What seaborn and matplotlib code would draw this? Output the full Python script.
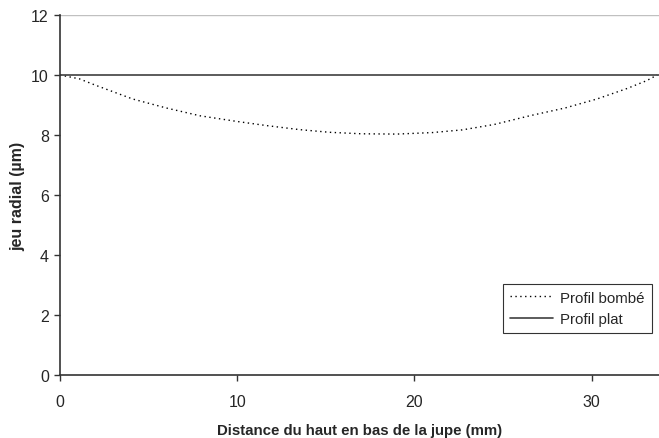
"""
Profil de jeu radial le long de la jupe : bombé vs plat
"""
import matplotlib
matplotlib.use("Agg")
import matplotlib.pyplot as plt
import seaborn as sns
import pandas as pd

sns.set_style("white")
plt.rcParams["font.family"] = ["Liberation Sans", "DejaVu Sans"]

# data
distance_mm = [0, 1.1, 2, 4.1, 6, 7.9, 10, 11.7, 13.5, 15.2, 17, 19, 21,
               22.7, 24.5, 26.5, 28.5, 30.3, 32, 33.1, 33.7]
jeu_bombe = [10.0, 9.87, 9.66, 9.2, 8.9, 8.64, 8.45, 8.31, 8.18, 8.09, 8.04,
             8.03, 8.08, 8.17, 8.35, 8.64, 8.9, 9.2, 9.55, 9.81, 10.0]
plat_x = [0, 33.8]
plat_y = [10, 10]

df_bombe = pd.DataFrame({"x": distance_mm, "y": jeu_bombe})
df_plat = pd.DataFrame({"x": plat_x, "y": plat_y})

fig = plt.figure(figsize=(6.59, 4.39), dpi=100)
ax = fig.add_axes([0.091, 0.1435, 0.909, 0.8201])

ax.axhline(12, color="#c0c0c0", lw=1, zorder=0)
sns.lineplot(data=df_bombe, x="x", y="y", ax=ax, color="black", lw=1,
             linestyle=(0, (1, 2.5)), label="Profil bombé")
sns.lineplot(data=df_plat, x="x", y="y", ax=ax, color="#404040", lw=1.2,
             label="Profil plat")

ax.set_xlim(0, 33.8)
ax.set_ylim(0, 12)
ax.set_xticks([0, 10, 20, 30])
ax.set_yticks([0, 2, 4, 6, 8, 10, 12])
ax.tick_params(axis="both", labelsize=11.5, length=4, width=1, color="#333333",
               direction="out", pad=4, bottom=True, left=True)
ax.tick_params(axis="x", pad=10)

for s in ["top", "right"]:
    ax.spines[s].set_visible(False)
for s in ["left", "bottom"]:
    ax.spines[s].set_color("#333333")
    ax.spines[s].set_linewidth(1.2)

ax.set_xlabel("Distance du haut en bas de la jupe (mm)", fontsize=10.8,
              fontweight="bold", labelpad=10)
ax.set_ylabel("jeu radial (µm)", fontsize=11.5, fontweight="bold", labelpad=4)

leg = ax.legend(loc="upper left", bbox_to_anchor=(0.74, 0.253), fontsize=10.8,
                frameon=True, fancybox=False, edgecolor="black",
                handlelength=2.85, borderpad=0.45, labelspacing=0.5,
                handletextpad=0.5, borderaxespad=0)
leg.get_frame().set_linewidth(0.8)

fig.savefig("out.png", dpi=100)
